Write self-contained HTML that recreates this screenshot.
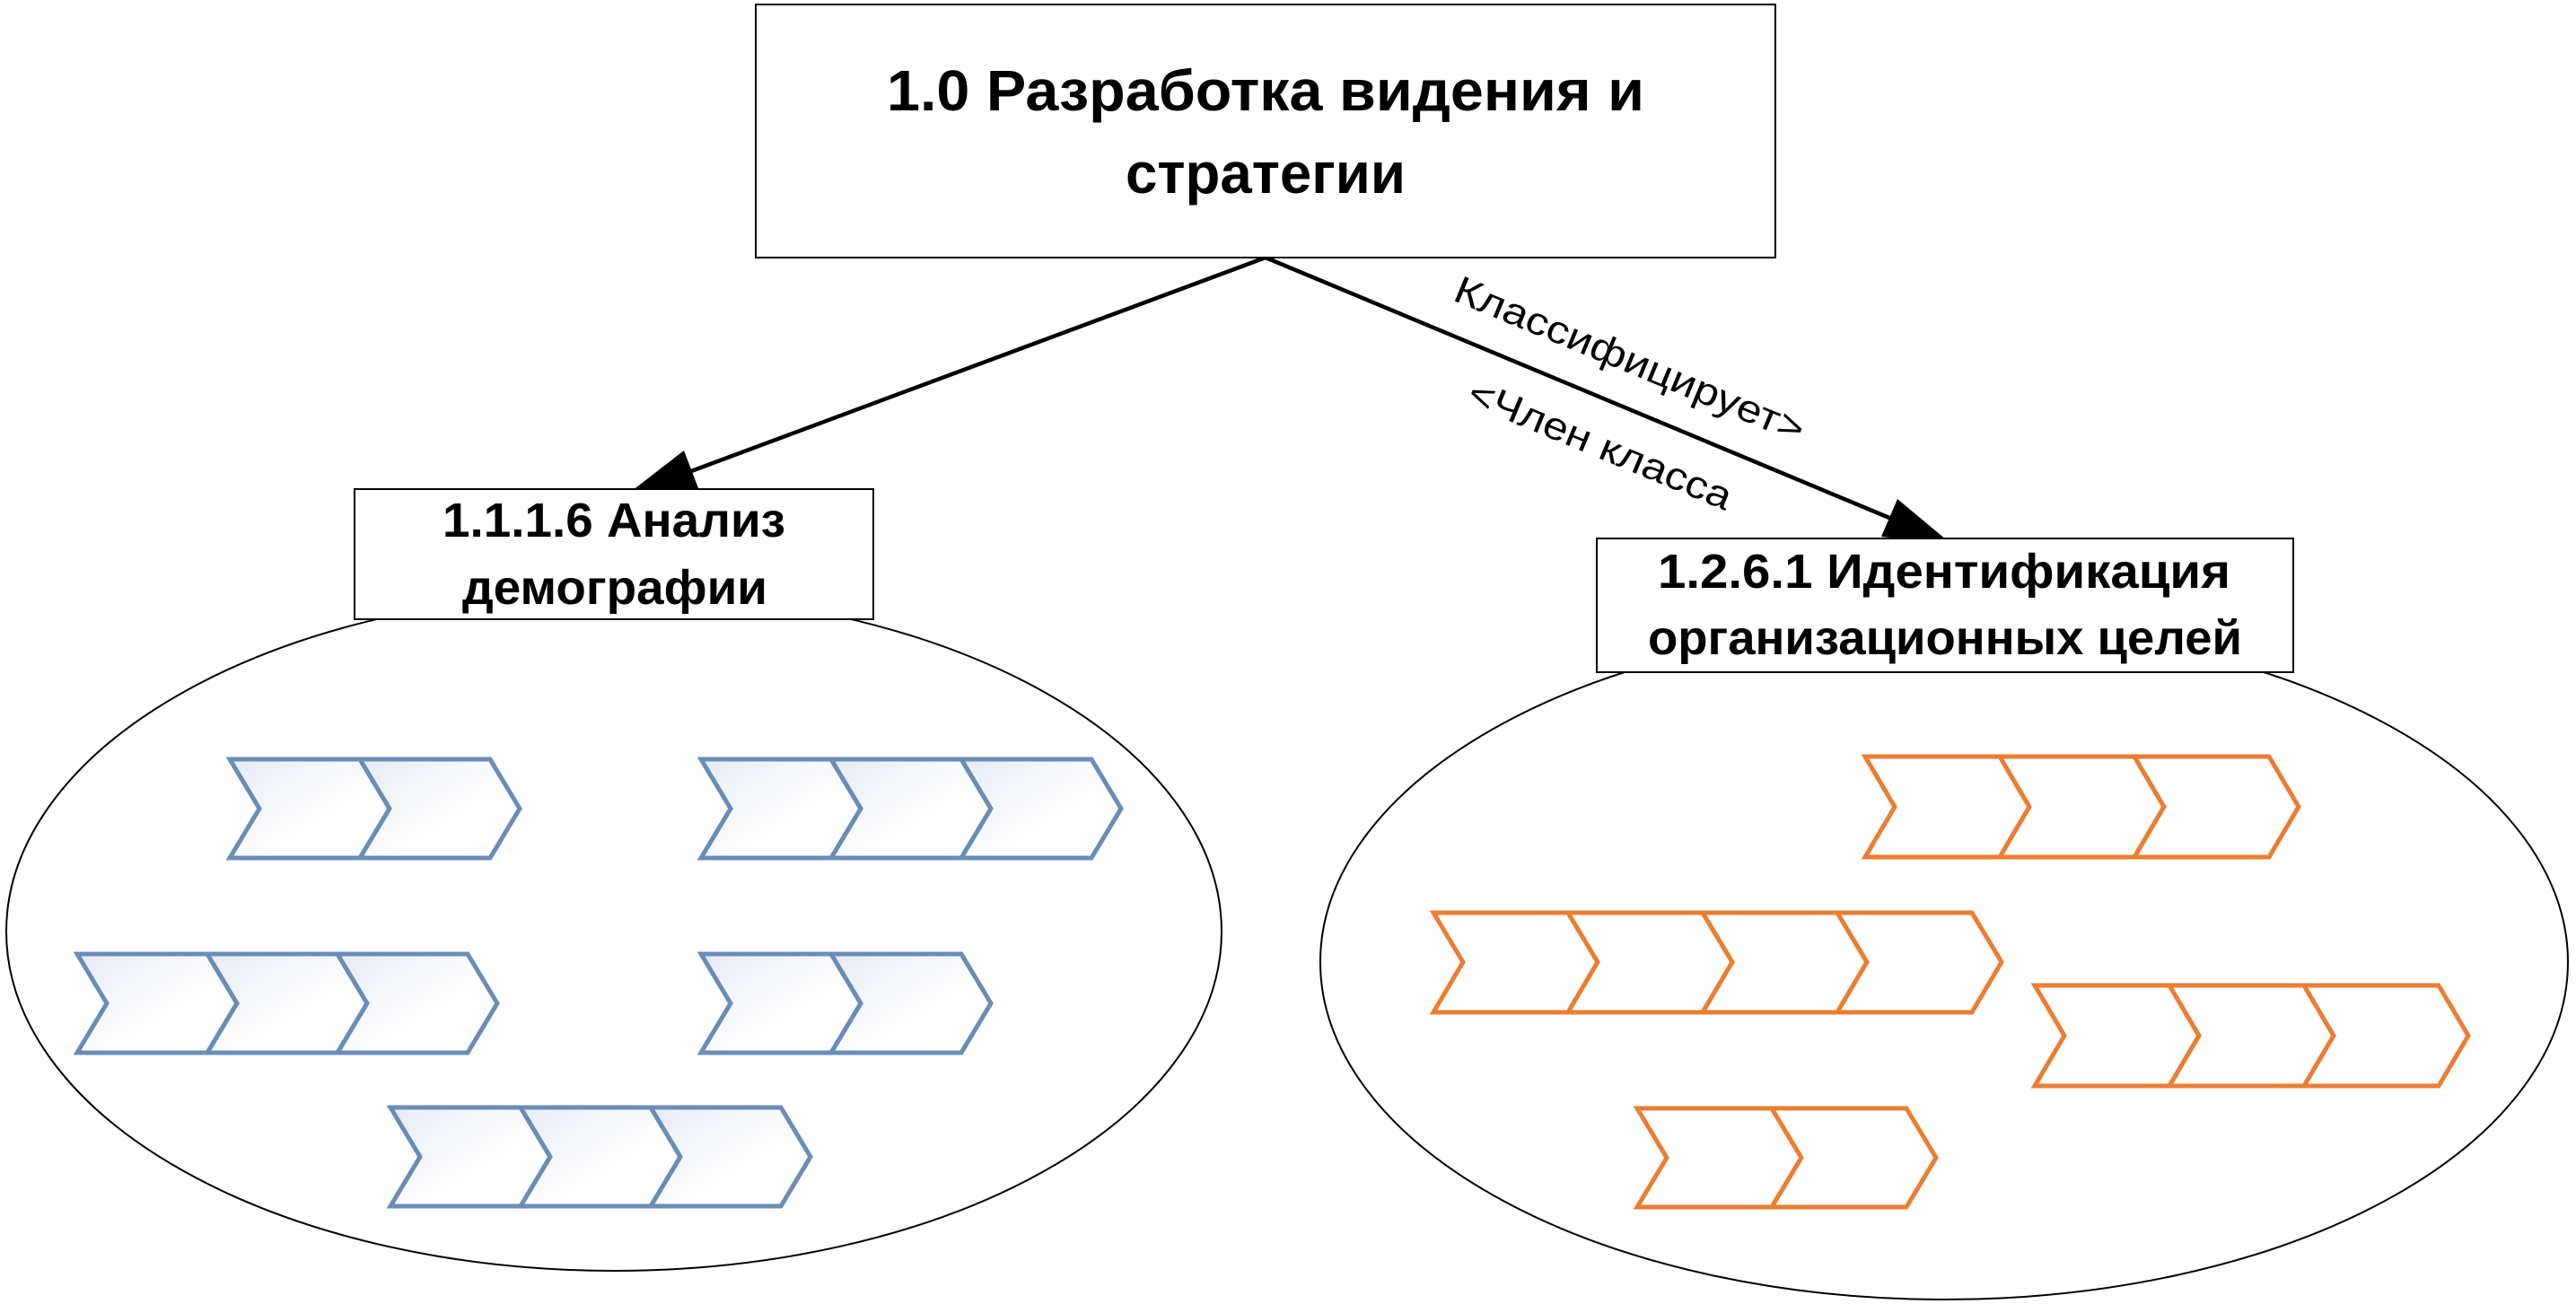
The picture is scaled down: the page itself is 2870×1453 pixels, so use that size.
<!DOCTYPE html>
<html><head><meta charset="utf-8"><style>html,body{margin:0;padding:0;background:#fff}svg{display:block}</style></head>
<body>
<svg width="2870" height="1453" viewBox="0 0 2870 1453" xmlns="http://www.w3.org/2000/svg">
<defs>
<linearGradient id="bg" x1="0" y1="0" x2="1" y2="1">
<stop offset="0" stop-color="#e6ebf4"/><stop offset="0.6" stop-color="#ffffff"/>
</linearGradient>
</defs>
<rect width="2870" height="1453" fill="#fff"/>
<ellipse cx="684" cy="1038" rx="677" ry="378" fill="#fff" stroke="#000" stroke-width="2"/>
<ellipse cx="2166" cy="1072" rx="695" ry="376" fill="#fff" stroke="#000" stroke-width="2"/>

<g stroke="#000" stroke-width="4.5" fill="none">
<line x1="1410" y1="287" x2="770" y2="525"/>
<line x1="1410" y1="287" x2="2105" y2="577"/>
</g>
<polygon points="700,550 762,502 778,544" fill="#000"/>
<polygon points="2174,606 2096,598 2114,556" fill="#000"/>

<rect x="842" y="5" width="1136" height="282" fill="#fff" stroke="#000" stroke-width="2"/>
<rect x="395" y="545" width="578" height="145" fill="#fff" stroke="#000" stroke-width="2"/>
<rect x="1779" y="600" width="776" height="149" fill="#fff" stroke="#000" stroke-width="2"/>

<g font-family="Liberation Sans, sans-serif" font-weight="bold" fill="#000">
<text x="988" y="123" font-size="64" textLength="844" lengthAdjust="spacingAndGlyphs">1.0 Разработка видения и</text>
<text x="1254" y="215" font-size="64" textLength="312" lengthAdjust="spacingAndGlyphs">стратегии</text>
<text x="493" y="598" font-size="54" textLength="382" lengthAdjust="spacingAndGlyphs">1.1.1.6 Анализ</text>
<text x="515" y="673" font-size="54" textLength="340" lengthAdjust="spacingAndGlyphs">демографии</text>
<text x="1847" y="655" font-size="54" textLength="638" lengthAdjust="spacingAndGlyphs">1.2.6.1  Идентификация</text>
<text x="1836" y="729" font-size="54" textLength="662" lengthAdjust="spacingAndGlyphs">организационных целей</text>
</g>
<g font-family="Liberation Sans, sans-serif" font-size="43" fill="#000" text-anchor="middle">
<text x="1816" y="415" transform="rotate(22.5 1816 400)" textLength="418" lengthAdjust="spacingAndGlyphs">Классифицирует&gt;</text>
<text x="1783" y="510" transform="rotate(22.5 1783 495)" textLength="314" lengthAdjust="spacingAndGlyphs">&lt;Член класса</text>
</g>

<g stroke="#6a8db8" stroke-width="5" fill="url(#bg)" stroke-linejoin="miter">
<polygon points="256,846 401,846 434,901 401,956 256,956 289,901"/>
<polygon points="401,846 546,846 579,901 546,956 401,956 434,901"/>
<polygon points="781,846 926,846 959,901 926,956 781,956 814,901"/>
<polygon points="926,846 1071,846 1104,901 1071,956 926,956 959,901"/>
<polygon points="1071,846 1216,846 1249,901 1216,956 1071,956 1104,901"/>
<polygon points="86,1063 231,1063 264,1118 231,1173 86,1173 119,1118"/>
<polygon points="231,1063 376,1063 409,1118 376,1173 231,1173 264,1118"/>
<polygon points="376,1063 521,1063 554,1118 521,1173 376,1173 409,1118"/>
<polygon points="781,1063 926,1063 959,1118 926,1173 781,1173 814,1118"/>
<polygon points="926,1063 1071,1063 1104,1118 1071,1173 926,1173 959,1118"/>
<polygon points="435,1234 580,1234 613,1289 580,1344 435,1344 468,1289"/>
<polygon points="580,1234 725,1234 758,1289 725,1344 580,1344 613,1289"/>
<polygon points="725,1234 870,1234 903,1289 870,1344 725,1344 758,1289"/>
</g>

<g stroke="#ed7d31" stroke-width="5" fill="#fff" stroke-linejoin="miter">
<polygon points="2078,843 2228,843 2261,899 2228,955 2078,955 2111,899"/>
<polygon points="2228,843 2378,843 2411,899 2378,955 2228,955 2261,899"/>
<polygon points="2378,843 2528,843 2561,899 2528,955 2378,955 2411,899"/>
<polygon points="1597,1017 1747,1017 1780,1072 1747,1128 1597,1128 1630,1072"/>
<polygon points="1747,1017 1897,1017 1930,1072 1897,1128 1747,1128 1780,1072"/>
<polygon points="1897,1017 2047,1017 2080,1072 2047,1128 1897,1128 1930,1072"/>
<polygon points="2047,1017 2197,1017 2230,1072 2197,1128 2047,1128 2080,1072"/>
<polygon points="2267,1098 2417,1098 2450,1154 2417,1210 2267,1210 2300,1154"/>
<polygon points="2417,1098 2567,1098 2600,1154 2567,1210 2417,1210 2450,1154"/>
<polygon points="2567,1098 2717,1098 2750,1154 2717,1210 2567,1210 2600,1154"/>
<polygon points="1824,1235 1974,1235 2007,1290 1974,1345 1824,1345 1857,1290"/>
<polygon points="1974,1235 2124,1235 2157,1290 2124,1345 1974,1345 2007,1290"/>
</g>
</svg>
</body></html>
